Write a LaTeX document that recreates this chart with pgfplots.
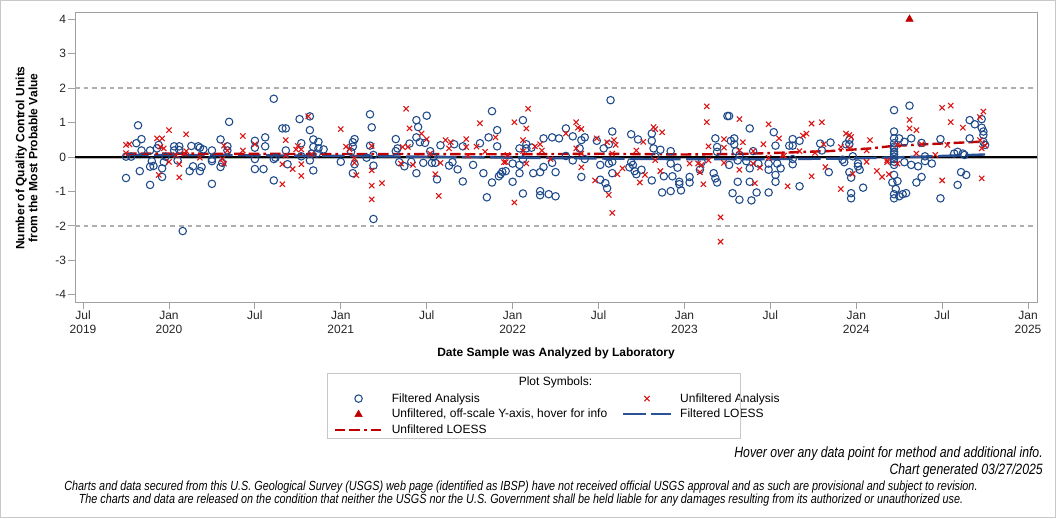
\documentclass[border=0pt]{standalone}
\usepackage{pgfplots}
\pgfplotsset{compat=1.18}
\usepackage{fontspec}
\setmainfont{Liberation Sans}
\newfontfamily\footfont[FakeStretch=0.82]{Liberation Sans}
\definecolor{cblue}{RGB}{31,75,140}
\definecolor{cred}{RGB}{220,20,20}
\definecolor{dred}{RGB}{192,0,0}
\definecolor{lblue}{RGB}{42,82,148}
\definecolor{framec}{RGB}{160,160,160}
\definecolor{refg}{RGB}{175,175,175}
\definecolor{legc}{RGB}{200,200,200}
\begin{document}
\begin{tikzpicture}
\useasboundingbox (0,0) rectangle (792pt,388.5pt);
\fill[white] (0,0) rectangle (792pt,388.5pt);
\draw[legc, line width=0.75pt] (0.375pt,0.375pt) rectangle (791.625pt,388.125pt);
\begin{axis}[
  at={(56.25pt,162pt)}, anchor=south west,
  scale only axis, width=721.5pt, height=217.5pt,
  xmin=2019.453, xmax=2025.052, ymin=-4.21, ymax=4.21,
  axis line style={draw=framec, line width=0.6pt},
  xtick={2019.5,2020,2020.5,2021,2021.5,2022,2022.5,2023,2023.5,2024,2024.5,2025},
  xticklabels={{Jul\\2019},{Jan\\2020},Jul,{Jan\\2021},Jul,{Jan\\2022},Jul,{Jan\\2023},Jul,{Jan\\2024},Jul,{Jan\\2025}},
  ytick={-4,-3,-2,-1,0,1,2,3,4},
  yticklabels={-4,-3,-2,-1,0,1,2,3,4},
  tick align=outside, tick pos=left, major tick length=5pt,
  tick style={draw=framec, line width=0.6pt},
  xticklabel style={align=center, font=\fontsize{9}{10.5}\selectfont, text=black!85, inner sep=1.5pt},
  yticklabel style={font=\fontsize{9}{10.5}\selectfont, text=black!85, inner sep=1.5pt},
  legend columns=2,
  legend cell align=left,
  legend style={at={(axis description cs:0.2685,-0.3048)}, anchor=north west, draw=none, fill=none, inner sep=0pt,
    font=\fontsize{9}{11}\selectfont,
    nodes={inner sep=0pt, text height=8.6pt, text depth=3.3pt},
    /tikz/every odd column/.append style={column sep=6.2pt},
    /tikz/every even column/.append style={column sep=11pt}},
  legend image code/.code={\draw[mark repeat=2,mark phase=2,#1] plot coordinates {(0pt,0pt) (18pt,0pt) (36pt,0pt)};},
]
% reference lines
\addplot[forget plot, refg, line width=1.5pt, dash pattern=on 3.5pt off 3pt] coordinates {(2019.453,2) (2025.052,2)};
\addplot[forget plot, refg, line width=1.5pt, dash pattern=on 3.5pt off 3pt] coordinates {(2019.453,-2) (2025.052,-2)};
\addplot[forget plot, black!30, line width=1.2pt] coordinates {(2019.453,-0.035) (2025.052,-0.035)};
\addplot[forget plot, black, line width=1.4pt] coordinates {(2019.453,0.005) (2025.052,0.005)};
% filtered analysis
\addplot[forget plot, only marks, mark=o, cblue, mark size=2.8pt, line width=0.8pt] table {
x y
2019.75 0.01
2019.78 0.01
2019.75 -0.61
2019.82 0.92
2019.83 -0.41
2019.81 0.40
2019.84 0.52
2019.84 0.19
2019.89 0.19
2019.93 0.25
2019.94 0.35
2019.90 -0.12
2019.89 -0.28
2019.91 -0.26
2019.89 -0.81
2019.97 -0.15
2019.96 -0.33
2019.96 -0.58
2019.98 0.01
2020.03 0.31
2020.06 0.31
2020.03 0.19
2020.05 -0.10
2020.06 0.20
2020.08 -2.15
2020.12 -0.41
2020.14 -0.27
2020.13 0.32
2020.17 0.31
2020.18 0.27
2020.19 -0.29
2020.18 -0.41
2020.20 0.22
2020.25 0.19
2020.25 -0.06
2020.25 -0.12
2020.25 -0.78
2020.30 0.51
2020.30 -0.29
2020.31 -0.17
2020.34 0.31
2020.34 0.19
2020.35 1.02
2020.61 1.69
2020.66 0.83
2020.68 0.83
2020.76 1.10
2020.82 0.78
2020.82 1.18
2020.50 0.47
2020.50 0.27
2020.50 -0.06
2020.50 -0.35
2020.55 -0.35
2020.56 0.57
2020.56 0.31
2020.61 -0.06
2020.62 -0.02
2020.61 -0.68
2020.68 0.19
2020.69 -0.21
2020.77 0.40
2020.77 0.02
2020.82 -0.10
2020.83 0.10
2020.84 -0.39
2020.84 0.51
2020.84 0.29
2020.87 0.44
2020.87 0.25
2020.86 0.10
2020.90 0.22
2021.00 -0.14
2021.07 -0.47
2021.07 0.43
2021.08 0.52
2021.07 0.30
2021.08 -0.21
2021.06 0.15
2021.15 -0.02
2021.17 1.24
2021.18 0.86
2021.17 0.33
2021.19 -1.80
2021.19 -0.25
2021.19 0.06
2021.32 0.52
2021.33 0.25
2021.32 0.17
2021.34 -0.15
2021.37 -0.27
2021.40 0.39
2021.41 -0.14
2021.44 1.07
2021.45 0.87
2021.44 0.57
2021.44 -0.47
2021.46 0.43
2021.49 0.41
2021.50 1.20
2021.48 -0.17
2021.53 -0.17
2021.54 0.00
2021.52 0.17
2021.55 -0.17
2021.56 -0.65
2021.58 0.34
2021.63 -0.25
2021.65 -0.15
2021.66 0.37
2021.68 -0.36
2021.71 -0.71
2021.71 0.31
2021.77 -0.23
2021.81 0.40
2021.83 -0.47
2021.85 -1.17
2021.86 0.57
2021.88 -0.74
2021.88 1.33
2021.91 0.78
2021.91 0.31
2021.92 -0.56
2021.93 -0.50
2021.94 -0.43
2021.96 -0.41
2022.00 -0.72
2022.00 -0.19
2022.04 0.25
2022.04 -0.47
2022.04 -0.23
2022.06 -0.07
2022.06 -1.06
2022.06 1.07
2022.08 0.37
2022.08 0.25
2022.11 0.27
2022.12 -0.47
2022.16 -0.44
2022.16 -0.99
2022.16 -1.11
2022.18 0.54
2022.18 -0.29
2022.21 -1.08
2022.23 0.57
2022.23 -0.17
2022.25 -1.14
2022.25 -0.44
2022.27 0.54
2022.31 0.83
2022.31 0.03
2022.35 0.60
2022.35 -0.10
2022.39 0.25
2022.40 0.49
2022.42 0.57
2022.42 -0.06
2022.40 -0.58
2022.49 0.47
2022.51 -0.23
2022.51 -0.66
2022.53 0.25
2022.54 -0.76
2022.55 -0.91
2022.56 0.37
2022.58 0.74
2022.57 1.65
2022.58 -0.14
2022.58 -0.47
2022.56 -0.19
2022.69 0.66
2022.68 -0.30
2022.70 -0.23
2022.73 0.51
2022.69 -0.15
2022.71 -0.41
2022.72 -0.50
2022.75 -0.37
2022.81 0.68
2022.81 0.47
2022.82 0.25
2022.83 0.01
2022.81 -0.68
2022.86 0.21
2022.88 -0.56
2022.87 -1.03
2022.92 0.17
2022.92 -0.19
2022.93 -0.56
2022.92 -0.99
2022.96 -0.31
2022.97 -0.72
2022.97 -0.79
2022.98 -0.97
2023.03 -0.58
2023.03 -0.74
2023.10 -0.15
2023.09 -0.37
2023.17 -0.47
2023.18 -0.62
2023.19 -0.74
2023.19 0.29
2023.19 0.15
2023.18 0.54
2023.25 1.19
2023.26 1.19
2023.26 -0.23
2023.27 0.47
2023.29 0.54
2023.29 0.37
2023.30 0.17
2023.31 -0.72
2023.28 -1.05
2023.32 -1.24
2023.32 0.06
2023.31 -0.10
2023.36 -0.12
2023.38 -0.33
2023.38 -0.72
2023.39 -1.26
2023.38 0.83
2023.40 0.17
2023.42 -1.03
2023.43 -0.19
2023.52 0.72
2023.53 0.33
2023.49 -0.19
2023.49 -0.37
2023.53 -0.52
2023.53 -0.72
2023.49 -1.03
2023.54 -0.19
2023.56 -0.33
2023.61 0.33
2023.63 0.33
2023.63 0.52
2023.63 -0.06
2023.63 -0.21
2023.67 0.47
2023.67 -0.85
2023.79 0.39
2023.80 0.19
2023.85 0.42
2023.84 -0.44
2023.92 -0.08
2023.93 -0.15
2023.94 0.37
2023.96 0.37
2023.96 0.50
2023.96 -0.44
2023.97 -0.60
2023.97 -1.05
2023.97 -1.20
2023.98 0.02
2024.01 -0.19
2024.01 -0.27
2024.02 -0.37
2024.04 -0.89
2024.22 1.36
2024.22 0.74
2024.22 0.54
2024.22 0.40
2024.22 0.25
2024.22 0.15
2024.22 0.01
2024.22 -0.14
2024.22 -0.23
2024.22 0.30
2024.22 0.08
2024.22 -0.06
2024.22 -0.52
2024.24 -0.70
2024.21 -0.74
2024.23 -0.93
2024.22 -1.08
2024.22 -1.20
2024.25 -1.14
2024.27 -1.08
2024.29 -1.05
2024.31 1.49
2024.25 0.54
2024.28 0.44
2024.32 0.54
2024.28 -0.15
2024.32 -0.23
2024.36 -0.27
2024.35 -0.74
2024.38 -0.58
2024.38 0.41
2024.40 0.02
2024.40 -0.12
2024.44 -0.19
2024.49 0.52
2024.49 -1.20
2024.57 0.10
2024.59 0.15
2024.62 0.10
2024.63 0.06
2024.61 -0.44
2024.64 -0.52
2024.59 -0.81
2024.66 1.07
2024.69 0.95
2024.66 0.54
2024.73 0.85
2024.74 0.74
2024.74 0.64
2024.74 0.44
2024.75 0.35
2024.73 1.10
};
% unfiltered analysis
\addplot[forget plot, only marks, mark=x, cred, mark size=2.8pt, line width=0.8pt] table {
x y
2019.75 0.35
2019.77 0.37
2019.75 0.11
2019.93 0.54
2019.96 0.54
2020.00 0.78
2019.95 0.30
2019.97 0.25
2019.94 -0.52
2020.00 -0.14
2020.06 -0.21
2020.06 -0.59
2020.04 0.06
2020.10 0.66
2020.10 0.17
2020.09 0.10
2020.18 -0.02
2020.32 0.33
2020.34 0.19
2020.31 -0.06
2020.32 -0.19
2020.43 0.61
2020.43 0.19
2020.50 0.37
2020.68 0.49
2020.68 0.04
2020.66 -0.21
2020.66 -0.79
2020.72 -0.35
2020.74 0.22
2020.75 0.32
2020.77 0.22
2020.77 -0.21
2020.77 -0.55
2020.81 1.18
2020.83 0.08
2021.00 0.81
2021.03 0.30
2021.05 0.23
2021.08 -0.04
2021.08 -0.17
2021.09 -0.53
2021.18 0.32
2021.18 -0.39
2021.18 -0.83
2021.18 -1.23
2021.24 -0.76
2021.38 1.40
2021.40 0.83
2021.36 0.29
2021.39 0.29
2021.35 -0.19
2021.42 -0.23
2021.47 0.68
2021.50 0.52
2021.52 0.10
2021.55 -0.50
2021.57 -1.13
2021.58 -0.17
2021.61 0.49
2021.64 0.43
2021.63 0.25
2021.73 0.52
2021.73 0.29
2021.74 0.04
2021.79 0.30
2021.81 0.98
2021.84 0.15
2021.90 0.57
2021.95 -0.15
2022.01 1.01
2022.09 1.40
2022.08 0.83
2022.06 0.49
2021.97 0.06
2021.96 -0.15
2022.06 0.17
2022.08 -0.19
2022.01 -1.32
2022.13 0.31
2022.16 0.37
2022.17 0.19
2022.22 -0.06
2022.31 0.68
2022.37 1.01
2022.38 0.85
2022.40 0.81
2022.37 0.25
2022.40 0.10
2022.40 -0.30
2022.49 0.54
2022.48 -0.68
2022.55 0.43
2022.59 0.49
2022.60 0.35
2022.58 0.10
2022.56 -1.10
2022.58 -1.62
2022.61 -0.50
2022.64 -0.33
2022.72 0.19
2022.76 0.44
2022.77 -0.52
2022.74 -0.74
2022.82 0.87
2022.83 0.81
2022.87 0.72
2022.83 -0.09
2022.86 -0.41
2023.03 -0.19
2023.08 -0.19
2023.10 -0.23
2023.09 -0.44
2023.11 -0.79
2023.13 1.47
2023.13 1.01
2023.14 0.31
2023.14 -0.10
2023.23 0.52
2023.23 0.27
2023.21 -1.75
2023.21 -2.46
2023.32 1.10
2023.32 0.19
2023.32 -0.37
2023.23 -0.17
2023.34 0.43
2023.40 0.17
2023.40 -0.19
2023.41 -0.76
2023.44 -0.31
2023.46 0.37
2023.49 0.95
2023.55 0.54
2023.49 -0.02
2023.57 0.06
2023.58 0.04
2023.60 -0.85
2023.67 0.17
2023.69 0.62
2023.71 0.68
2023.74 0.97
2023.80 1.01
2023.76 0.12
2023.74 -0.56
2023.82 -0.29
2023.81 0.37
2023.91 0.29
2023.94 0.68
2023.96 0.64
2023.97 0.58
2023.91 -0.93
2023.96 0.25
2023.98 -0.49
2024.08 0.49
2024.06 0.19
2024.06 -0.14
2024.12 -0.41
2024.15 -0.58
2024.18 -0.10
2024.19 -0.50
2024.31 1.08
2024.31 0.83
2024.35 0.78
2024.50 1.43
2024.55 1.49
2024.55 1.01
2024.62 0.85
2024.38 0.37
2024.53 0.35
2024.24 0.35
2024.35 0.10
2024.46 0.06
2024.24 -0.19
2024.18 -0.15
2024.50 -0.68
2024.73 -0.62
2024.74 1.32
2024.72 1.16
2024.72 0.49
2024.73 0.25
2024.75 0.33
};
% off-scale unfiltered
\addplot[forget plot, only marks, mark=triangle*, dred, mark size=3.2pt] table {
x y
2024.31 4.00
};
% filtered LOESS
\addplot[forget plot, lblue, line width=1.8pt, dash pattern=on 17pt off 4pt] table {
x y
2019.75 0.058
2020.47 0.049
2021.05 0.029
2021.63 0.000
2022.21 -0.029
2022.79 -0.058
2023.37 -0.067
2023.95 -0.044
2024.21 -0.015
2024.49 0.029
2024.75 0.073
};
% unfiltered LOESS
\addplot[forget plot, dred, line width=1.8pt, dash pattern=on 8pt off 3pt on 8pt off 3pt on 2pt off 3pt] table {
x y
2019.75 0.100
2020.18 0.096
2020.76 0.087
2021.35 0.087
2021.93 0.078
2022.51 0.093
2023.00 0.073
2023.32 0.087
2023.61 0.131
2023.85 0.174
2024.08 0.247
2024.21 0.320
2024.49 0.390
2024.75 0.450
};
\addlegendimage{only marks, mark=o, cblue, mark size=2.8pt, line width=0.8pt}
\addlegendentry{Filtered Analysis}
\addlegendimage{only marks, mark=x, cred, mark size=2.8pt, line width=0.8pt}
\addlegendentry{Unfiltered Analysis}
\addlegendimage{only marks, mark=triangle*, dred, mark size=3.2pt}
\addlegendentry{Unfiltered, off-scale Y-axis, hover for info}
\addlegendimage{lblue, line width=1.5pt, dash pattern=on 17pt off 4pt}
\addlegendentry{Filtered LOESS}
\addlegendimage{dred, line width=1.5pt, dash pattern=on 8pt off 3pt on 8pt off 3pt on 2pt off 3pt}
\addlegendentry{Unfiltered LOESS}
\end{axis}
% axis titles
\node[rotate=90, align=center, font=\fontsize{9}{9.75}\selectfont\bfseries] at (19.9pt,270pt) {Number of Quality Control Units\\from the Most Probable Value};
\node[font=\fontsize{9}{10}\selectfont\bfseries] at (417pt,123.75pt) {Date Sample was Analyzed by Laboratory};
% legend frame and title
\draw[legc, line width=0.75pt] (245.25pt,60pt) rectangle (555pt,108.75pt);
\node[font=\fontsize{9}{10}\selectfont] at (416.6pt,101.5pt) {Plot Symbols:};
% footer
\node[anchor=east, inner sep=0pt, font=\footfont\itshape\fontsize{11.2}{13}\selectfont] at (782.25pt,48pt) {Hover over any data point for method and additional info.};
\node[anchor=east, inner sep=0pt, font=\footfont\itshape\fontsize{11.2}{13}\selectfont] at (782.25pt,35.8pt) {Chart generated 03/27/2025};
\node[inner sep=0pt, font=\footfont\itshape\fontsize{9.9}{12}\selectfont] at (390.75pt,23.25pt) {Charts and data secured from this U.S. Geological Survey (USGS) web page (identified as IBSP) have not received official USGS approval and as such are provisional and subject to revision.};
\node[inner sep=0pt, font=\footfont\itshape\fontsize{9.9}{12}\selectfont] at (390.75pt,13.5pt) {The charts and data are released on the condition that neither the USGS nor the U.S. Government shall be held liable for any damages resulting from its authorized or unauthorized use.};
\end{tikzpicture}
\end{document}
